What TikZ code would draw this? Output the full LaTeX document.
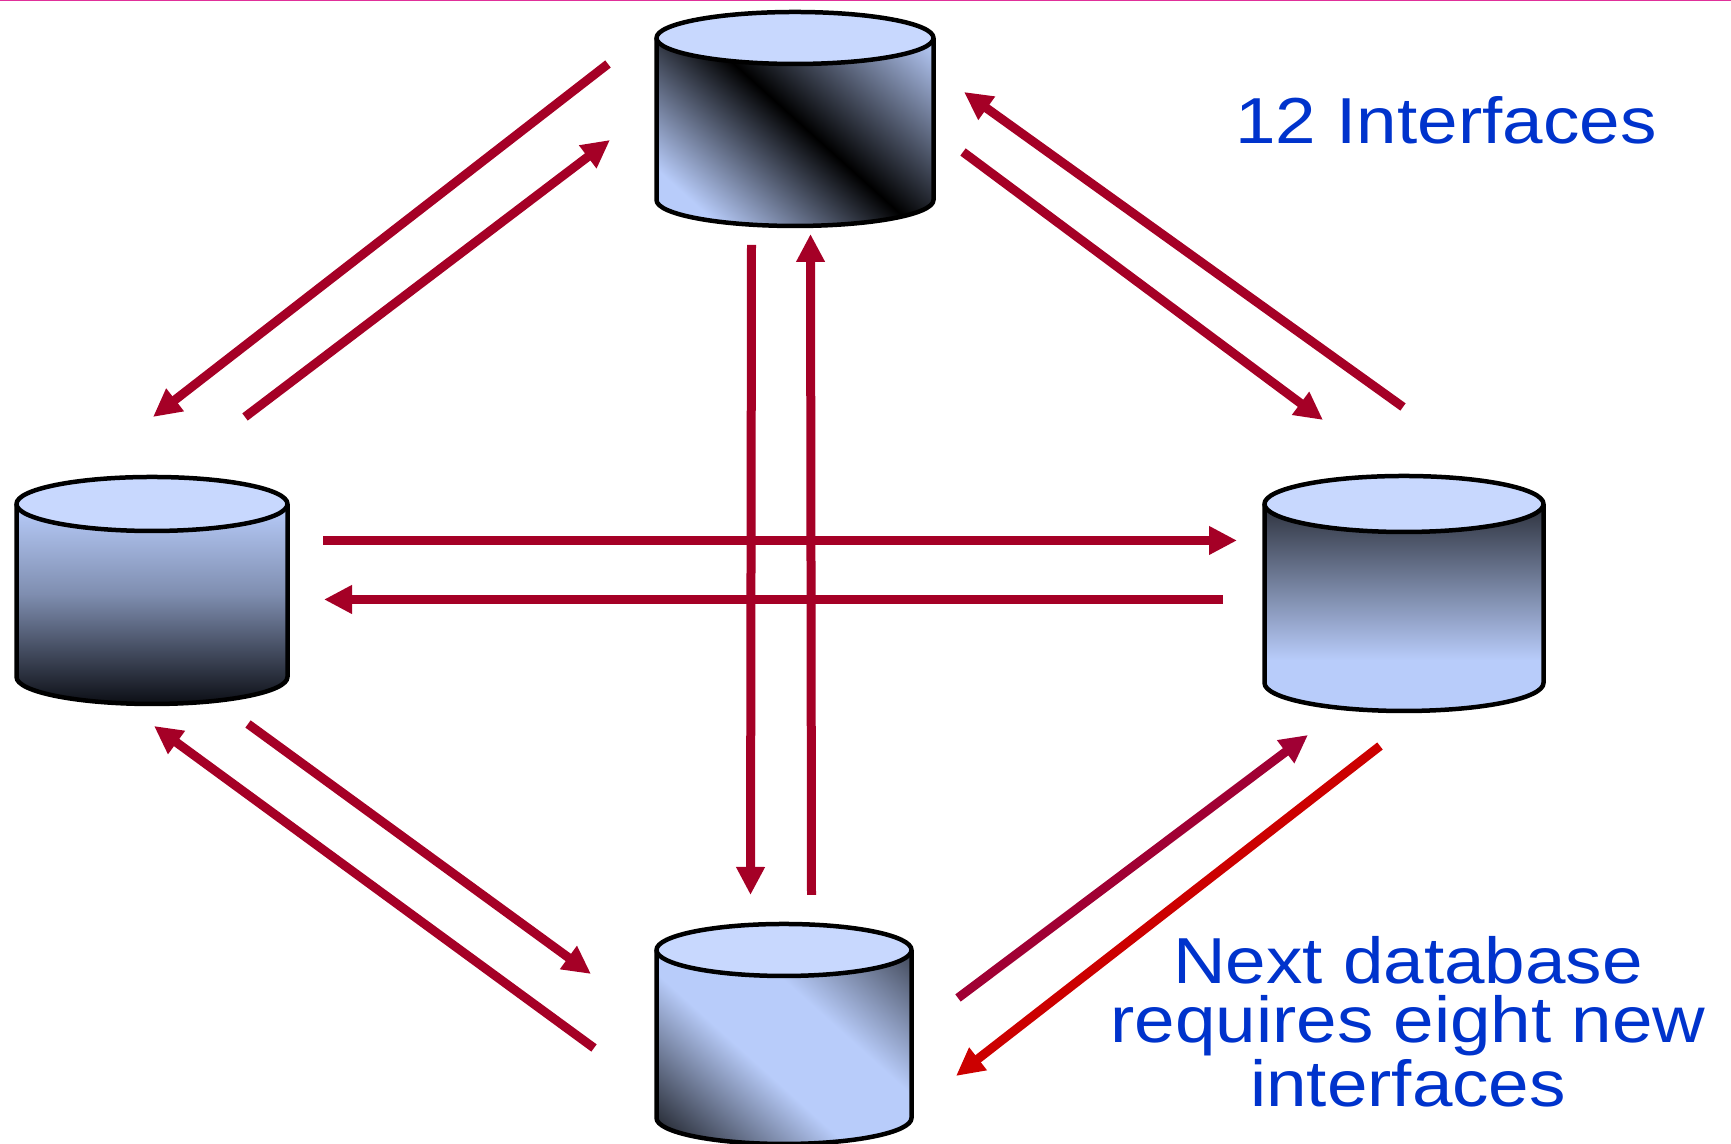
\documentclass[tikz,border=0pt]{standalone}
\usepackage{fontspec}
\setmainfont{Liberation Sans}
\newfontfamily\notefont[FakeStretch=1.12]{Liberation Sans}
\usetikzlibrary{arrows.meta}
\definecolor{dblight}{HTML}{B8CCFA}
\definecolor{dblid}{HTML}{C8D8FE}
\definecolor{dbmid}{HTML}{7F8EB0}
\definecolor{dbdark}{HTML}{0A0C12}
\definecolor{ifacered}{HTML}{A50026}
\definecolor{ifacemix}{HTML}{A00034}
\definecolor{ifacenew}{HTML}{CC0000}
\definecolor{notecolor}{HTML}{0033CC}
\definecolor{edgepink}{HTML}{E0309A}
\pgfdeclarehorizontalshading{dbshadetop}{100bp}{color(0bp)=(dblight); color(33.75bp)=(dblight); color(50bp)=(black); color(68.75bp)=(dblight); color(100bp)=(dblight)}
\pgfdeclarehorizontalshading{dbshadeleft}{100bp}{color(0bp)=(dblight); color(39.4bp)=(dblight); color(50.4bp)=(dbmid); color(64.4bp)=(dbdark); color(100bp)=(dbdark)}
\pgfdeclarehorizontalshading{dbshaderight}{100bp}{color(0bp)=(black); color(32.6bp)=(black); color(58.3bp)=(dblight); color(100bp)=(dblight)}
\pgfdeclarehorizontalshading{dbshadebottom}{100bp}{color(0bp)=(black); color(27bp)=(black); color(45bp)=(dblight); color(55bp)=(dblight); color(75.6bp)=(black); color(100bp)=(black)}
\tikzset{
  dbline/.style={draw=black,line width=.045cm,line join=round},
  iface/.style={ifacered,line width=.09cm,-{Triangle[length=.28cm,width=.27cm]}},
  note/.style={notecolor,font=\notefont\fontsize{18.5}{16.9}\selectfont,align=center,anchor=base}
}
\begin{document}
\begin{tikzpicture}
\useasboundingbox (0,0) rectangle (17.31,11.44);
\coordinate (edgeL) at (0,11.435);
\coordinate (edgeR) at (17.31,11.435);
\draw[edgepink,line width=.01cm] (edgeL) -- (edgeR);
% the four databases
\foreach \n/\x/\y/\rx/\ry/\h/\ang in {
  top/7.95/11.06/1.385/.26/1.62/48,
  left/1.52/6.40/1.355/.27/1.73/-90,
  right/14.04/6.40/1.395/.28/1.79/-90,
  bottom/7.84/1.94/1.275/.26/1.68/48%
}{
  \begin{scope}
    \clip (\x-\rx,\y) -- (\x-\rx,\y-\h) arc[start angle=180,end angle=360,x radius=\rx,y radius=\ry]
      -- (\x+\rx,\y) arc[start angle=0,end angle=180,x radius=\rx,y radius=\ry] -- cycle;
    \shade[shading=dbshade\n,transform canvas={shift={(\x,\y-\h/2)},rotate=\ang}] (-2,-2) rectangle (2,2);
  \end{scope}
  \draw[dbline] (\x-\rx,\y) -- (\x-\rx,\y-\h) arc[start angle=180,end angle=360,x radius=\rx,y radius=\ry] -- (\x+\rx,\y);
  \draw[dbline,fill=dblid] (\x,\y) ellipse [x radius=\rx,y radius=\ry];
}
% free ends of the interfaces
\foreach \n/\x/\y in {
  tlA/6.08/10.80, tlB/1.53/7.27,
  tlC/2.45/7.27,  tlD/6.10/10.04,
  trA/14.03/7.37, trB/9.64/10.52,
  trC/9.63/9.92,  trD/13.23/7.24,
  hzA/3.23/6.035, hzB/12.37/6.035,
  hzC/12.23/5.445, hzD/3.24/5.445,
  vtA/7.515/8.99,  vtB/7.505/2.49,
  vtC/8.115/2.49,  vtD/8.105/9.10,
  blA/5.94/.96,   blB/1.54/4.18,
  blC/2.48/4.20,  blD/5.91/1.70,
  brA/9.58/1.46,  brB/13.08/4.09,
  brC/13.80/3.98, brD/9.56/.68%
}
\coordinate (\n) at (\x,\y);
\foreach \a/\b in {tlA/tlB,tlC/tlD,trA/trB,trC/trD,hzA/hzB,hzC/hzD,vtA/vtB,vtC/vtD,blA/blB,blC/blD}
\draw[iface] (\a) -- (\b);
\draw[iface,ifacemix] (brA) -- (brB);
\draw[iface,ifacenew] (brC) -- (brD);
% the two remarks
\node[note] (count) at (14.46,10.005) {12 Interfaces};
\node[note] (nextdb) at (14.08,.37) {Next database\\requires eight new\\interfaces};
\end{tikzpicture}
\end{document}
